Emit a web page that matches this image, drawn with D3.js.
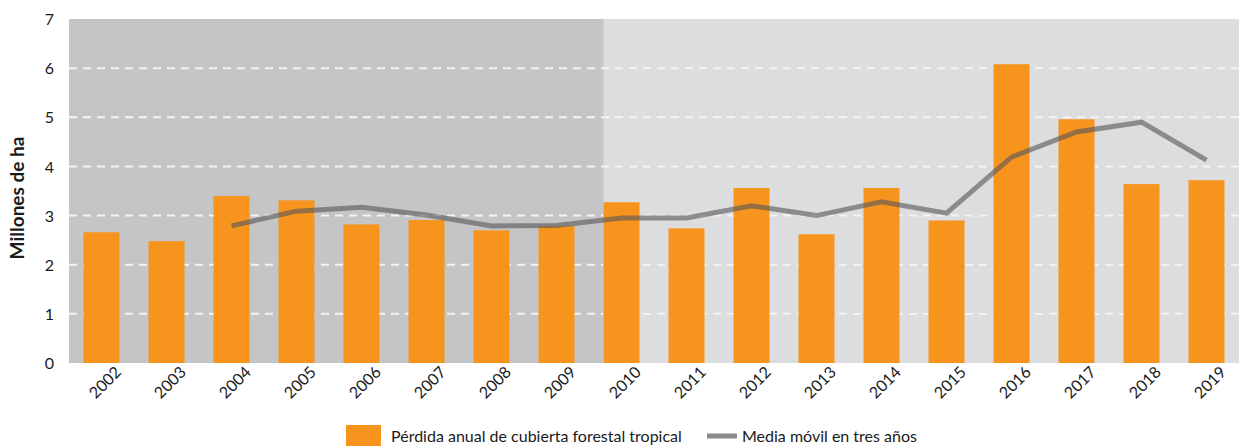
<!DOCTYPE html>
<html>
<head>
<meta charset="utf-8">
<script src="https://cdn.jsdelivr.net/npm/d3@7"></script>
<style>
  body { margin: 0; background: #fff; }
  svg text { font-family: "Lato", "Noto Sans", sans-serif; fill: #1a1a1a; }
</style>
</head>
<body>
<div id="chart"></div>
<script>
// Data
const years = ["2002","2003","2004","2005","2006","2007","2008","2009","2010",
               "2011","2012","2013","2014","2015","2016","2017","2018","2019"];
const annualLoss = [2.66, 2.48, 3.40, 3.31, 2.82, 2.91, 2.70, 2.79, 3.27,
                    2.74, 3.56, 2.62, 3.56, 2.90, 6.08, 4.96, 3.64, 3.72];
const movingAvg = [null, null, 2.79, 3.09, 3.17, 3.01, 2.79, 2.80, 2.95,
                   2.95, 3.20, 3.00, 3.28, 3.05, 4.19, 4.70, 4.90, 4.13];
const yTicks = [0, 1, 2, 3, 4, 5, 6, 7];
const legendLabels = ["Pérdida anual de cubierta forestal tropical", "Media móvil en tres años"];

const W = 1239, H = 446;
const margin = { top: 19, right: 0, bottom: 83, left: 69 },
      width = W - margin.left - margin.right,
      height = H - margin.top - margin.bottom;

const svg = d3.select("#chart")
  .append("svg")
  .attr("width", W)
  .attr("height", H);

const g = svg.append("g")
  .attr("transform", `translate(${margin.left},${margin.top})`);

// Scales
const x = d3.scaleBand()
  .domain(years)
  .range([0, width])
  .paddingInner(0.446)
  .paddingOuter(0.223);

const y = d3.scaleLinear()
  .domain([0, 7])
  .range([height, 0]);

// Backgrounds: earlier period darker, ends at the 2010 bar
const splitX = x("2010");
g.append("rect")
  .attr("x", 0).attr("y", 0)
  .attr("width", width).attr("height", height)
  .attr("fill", "#dcdddf");
g.append("rect")
  .attr("x", 0).attr("y", 0)
  .attr("width", splitX).attr("height", height)
  .attr("fill", "#c4c5c7");

// Grid lines
g.append("g")
  .selectAll("line")
  .data(yTicks.filter(d => d > 0 && d < 7))
  .enter().append("line")
  .attr("x1", 0).attr("x2", width)
  .attr("y1", d => y(d)).attr("y2", d => y(d))
  .attr("stroke", "#f4f4f4")
  .attr("stroke-width", 2)
  .attr("stroke-dasharray", "8,6");

// Bars
g.selectAll(".bar")
  .data(years.map((yr, i) => ({ year: yr, value: annualLoss[i] })))
  .enter().append("rect")
  .attr("class", "bar")
  .attr("x", d => x(d.year))
  .attr("y", d => y(d.value))
  .attr("width", x.bandwidth())
  .attr("height", d => height - y(d.value))
  .attr("fill", "#f7941d");

// Moving average line
const lineData = years.map((yr, i) => ({ year: yr, value: movingAvg[i] }))
  .filter(d => d.value !== null);
const line = d3.line()
  .x(d => x(d.year) + x.bandwidth() / 2)
  .y(d => y(d.value));
g.append("path")
  .datum(lineData)
  .attr("d", line)
  .attr("fill", "none")
  .attr("stroke", "#58595b")
  .attr("stroke-opacity", 0.62)
  .attr("stroke-width", 5)
  .attr("stroke-linejoin", "miter");

// Y axis
const yAxis = g.append("g")
  .call(d3.axisLeft(y).tickValues(yTicks).tickFormat(d3.format("d")).tickSize(0).tickPadding(15));
yAxis.select(".domain").remove();
yAxis.selectAll("text")
  .style("font-size", "16px")
  .attr("dy", "0.35em");

// X axis
const xAxis = g.append("g")
  .attr("transform", `translate(0,${height})`)
  .call(d3.axisBottom(x).tickSize(0));
xAxis.select(".domain").remove();
xAxis.selectAll("text")
  .style("font-size", "16px")
  .attr("text-anchor", "end")
  .attr("dx", "0.5em")
  .attr("dy", "0.6em")
  .attr("transform", "translate(6,7) rotate(-45)");

// Y label
svg.append("text")
  .attr("transform", "rotate(-90)")
  .attr("x", -198)
  .attr("y", 24)
  .attr("text-anchor", "middle")
  .style("font-size", "19px")
  .style("font-weight", "bold")
  .text("Millones de ha");

// Legend
const legend = svg.append("g");
legend.append("rect")
  .attr("x", 346).attr("y", 425)
  .attr("width", 35).attr("height", 21)
  .attr("fill", "#f7941d");
legend.append("text")
  .attr("x", 391).attr("y", 442)
  .style("font-size", "16px")
  .text(legendLabels[0]);
legend.append("line")
  .attr("x1", 707).attr("x2", 737)
  .attr("y1", 436).attr("y2", 436)
  .attr("stroke", "#8a8b8d")
  .attr("stroke-width", 5);
legend.append("text")
  .attr("x", 742).attr("y", 442)
  .style("font-size", "16px")
  .text(legendLabels[1]);
</script>
</body>
</html>
